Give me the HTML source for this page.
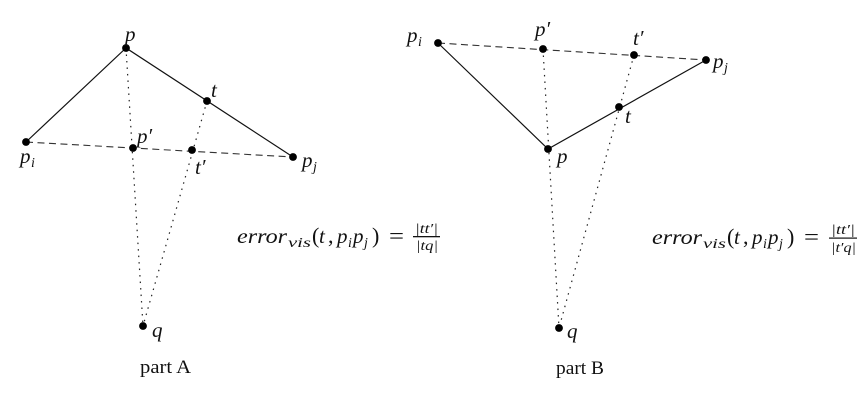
<!DOCTYPE html>
<html>
<head>
<meta charset="utf-8">
<style>
html,body{margin:0;padding:0;background:#fff;width:859px;height:403px;overflow:hidden}
svg{display:block}
text{font-family:"Liberation Serif",serif;fill:#111}
.m{font-style:italic;font-size:21px}
.s{font-style:italic;font-size:14px}
.r{font-size:22px}
.f{font-size:14px;font-style:italic}
.l{font-size:19px}
</style>
</head>
<body>
<svg width="859" height="403" viewBox="0 0 859 403" xmlns="http://www.w3.org/2000/svg">
<g fill="none" stroke="#111" stroke-width="1.2">
<path d="M26 142L126 48L293 157"/>
<path d="M438 43L548 149L706 60"/>
</g>
<g fill="none" stroke="#333" stroke-width="1.1" stroke-dasharray="7 4.5">
<path d="M26 142L293 157"/>
<path d="M438 43L706 60"/>
</g>
<g fill="none" stroke="#222" stroke-width="1.2" stroke-dasharray="1.5 5">
<path d="M126 48L143 326"/>
<path d="M207 101L143 326"/>
<path d="M543 49L559 328"/>
<path d="M634 55L559 328"/>
</g>
<g fill="#000">
<circle cx="126" cy="48" r="3.9"/><circle cx="26" cy="142" r="3.9"/><circle cx="293" cy="157" r="3.9"/>
<circle cx="207" cy="101" r="3.9"/><circle cx="133" cy="148" r="3.9"/><circle cx="192" cy="150" r="3.9"/>
<circle cx="143" cy="326" r="3.9"/>
<circle cx="438" cy="43" r="3.9"/><circle cx="543" cy="49" r="3.9"/><circle cx="634" cy="55" r="3.9"/>
<circle cx="706" cy="60" r="3.9"/><circle cx="619" cy="107" r="3.9"/><circle cx="548" cy="149" r="3.9"/>
<circle cx="559" cy="328" r="3.9"/>
</g>

<text class="m" x="125" y="41">p</text>
<text class="m" x="20" y="163">p</text><text class="s" x="31" y="167">i</text>
<text class="m" x="302" y="167">p</text><text class="s" x="313" y="171">j</text>
<text class="m" x="211" y="97">t</text>
<text class="m" x="137" y="143">p′</text>
<text class="m" x="195" y="174">t′</text>
<text class="m" x="152" y="337">q</text>
<text class="l" x="140" y="373" textLength="51" lengthAdjust="spacingAndGlyphs">part A</text>

<text class="m" x="407" y="42">p</text><text class="s" x="418" y="46">i</text>
<text class="m" x="535" y="36">p′</text>
<text class="m" x="633" y="45">t′</text>
<text class="m" x="713" y="68">p</text><text class="s" x="724" y="72">j</text>
<text class="m" x="625" y="123">t</text>
<text class="m" x="557" y="163">p</text>
<text class="m" x="567" y="338">q</text>
<text class="l" x="556" y="374" textLength="48" lengthAdjust="spacingAndGlyphs">part B</text>

<text class="m" x="237" y="243" textLength="50" lengthAdjust="spacingAndGlyphs">error</text>
<text class="s" x="288" y="247" textLength="23" lengthAdjust="spacingAndGlyphs">vis</text>
<text class="r" x="312" y="243">(</text><text class="m" x="319" y="243">t</text><text class="r" x="328" y="243">,</text>
<text class="m" x="337" y="243">p</text><text class="s" x="348" y="247">i</text>
<text class="m" x="353" y="243">p</text><text class="s" x="364" y="247">j</text>
<text class="r" x="372" y="243">)</text>
<text class="r" x="389" y="243" textLength="15" lengthAdjust="spacingAndGlyphs">=</text>
<text class="f" x="415" y="233" textLength="23" lengthAdjust="spacingAndGlyphs">|tt′|</text>
<rect x="413" y="236" width="27" height="1.3" fill="#111"/>
<text class="f" x="416" y="250" textLength="22" lengthAdjust="spacingAndGlyphs">|tq|</text>

<text class="m" x="652" y="244" textLength="50" lengthAdjust="spacingAndGlyphs">error</text>
<text class="s" x="703" y="248" textLength="23" lengthAdjust="spacingAndGlyphs">vis</text>
<text class="r" x="727" y="244">(</text><text class="m" x="734" y="244">t</text><text class="r" x="743" y="244">,</text>
<text class="m" x="752" y="244">p</text><text class="s" x="763" y="248">i</text>
<text class="m" x="768" y="244">p</text><text class="s" x="779" y="248">j</text>
<text class="r" x="787" y="244">)</text>
<text class="r" x="804" y="244" textLength="15" lengthAdjust="spacingAndGlyphs">=</text>
<text class="f" x="831" y="234" textLength="24" lengthAdjust="spacingAndGlyphs">|tt′|</text>
<rect x="829" y="237.5" width="28" height="1.2" fill="#111"/>
<text class="f" x="831" y="252" textLength="25" lengthAdjust="spacingAndGlyphs">|t′q|</text>
</svg>
</body>
</html>
